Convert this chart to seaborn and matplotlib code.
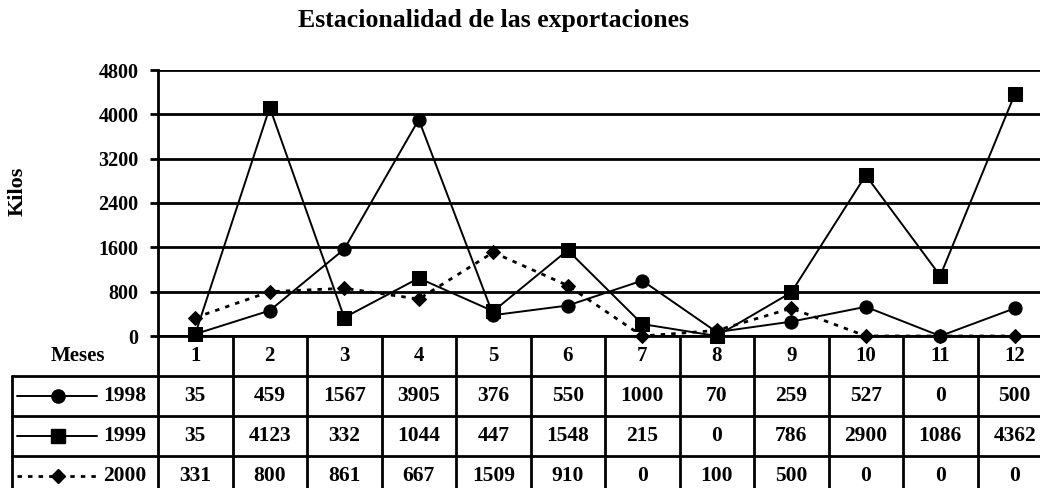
import matplotlib
matplotlib.use("Agg")
import matplotlib.pyplot as plt
import seaborn as sns
import pandas as pd

# ---- data ----
months = list(range(1, 13))
years = ["1998", "1999", "2000"]
v1998 = [35, 459, 1567, 3905, 376, 550, 1000, 70, 259, 527, 0, 500]
v1999 = [35, 4123, 332, 1044, 447, 1548, 215, 0, 786, 2900, 1086, 4362]
v2000 = [331, 800, 861, 667, 1509, 910, 0, 100, 500, 0, 0, 0]
yticks = [0, 800, 1600, 2400, 3200, 4000, 4800]
title = "Estacionalidad de las exportaciones"

series = {"1998": v1998, "1999": v1999, "2000": v2000}
df = pd.DataFrame([
    {"Mes": m, "Kilos": v, "Año": y}
    for y in years for m, v in zip(months, series[y])
])

sns.set_theme(style="white")
plt.rcParams["font.family"] = ["Liberation Serif", "DejaVu Serif"]
plt.rcParams["font.weight"] = "bold"
for k in ["text.color", "axes.labelcolor", "xtick.color", "ytick.color"]:
    plt.rcParams[k] = "black"

W, H = 1040, 488
fig = plt.figure(figsize=(W / 100, H / 100), dpi=100)
fig.patch.set_facecolor("white")

colw = 74.5
ax_left, ax_top, ax_bot = 158, 70, 336
ax = fig.add_axes([ax_left / W, (H - ax_bot) / H, 12 * colw / W, (ax_bot - ax_top) / H])

markers = {"1998": "o", "1999": "s", "2000": "D"}
dashes = {"1998": "", "1999": "", "2000": (1.6, 2.2)}
palette = {y: "black" for y in years}
sns.lineplot(data=df, x="Mes", y="Kilos", hue="Año", style="Año",
             markers=markers, dashes=dashes, palette=palette, ax=ax,
             linewidth=1.4, markersize=9.5, markeredgecolor="black",
             clip_on=False, legend=False)
for line in ax.get_lines():
    if line.get_marker() == "D":
        line.set_markersize(7)
        line.set_linewidth(2.0)

ax.set_xlim(0.5, 12.5)
ax.set_ylim(0, 4800)
ax.set_xticks([])
ax.set_yticks(yticks)
ax.set_yticklabels([str(t) for t in yticks], fontsize=14.5, fontweight="bold")
ax.yaxis.grid(True, color="black", linewidth=2.0)
ax.tick_params(axis="y", left=True, length=6, width=2, pad=8, colors="black")
for s in ["top", "right"]:
    ax.spines[s].set_visible(False)
ax.spines["left"].set_linewidth(2)
ax.spines["left"].set_color("black")
ax.spines["bottom"].set_linewidth(2)
ax.spines["bottom"].set_color("black")
ax.set_xlabel("")
ax.set_ylabel("Kilos", fontsize=16, fontweight="bold")
ax.yaxis.set_label_coords((28 - ax_left) / (12 * colw), (ax_bot - 191) / (ax_bot - ax_top))

fig.text(493 / W, 1 - 21 / H, title, ha="center", va="center",
         fontsize=18.5, fontweight="bold")

# ---- data table ----
tab_left, tab_top, tab_bot = 12, 336, 496
tab = fig.add_axes([tab_left / W, (H - tab_bot) / H, (ax_left + 12 * colw - tab_left) / W,
                    (tab_bot - tab_top) / H])
xl = 0.5 - (ax_left - tab_left) / colw
tab.set_xlim(xl, 12.5)
tab.set_ylim(4, 0)
tab.axis("off")

lw = 2.0
for r in [1, 2, 3, 4]:
    tab.plot([xl, 12.5], [r, r], color="black", lw=lw, clip_on=False)
tab.plot([xl, xl], [1, 4], color="black", lw=lw, clip_on=False)
for m in range(12):
    tab.plot([m + 0.5, m + 0.5], [0, 4], color="black", lw=lw, clip_on=False)

tab.text(-0.57, 0.5, "Meses", ha="center", va="center", fontsize=15, fontweight="bold")
for m in months:
    tab.text(m, 0.5, str(m), ha="center", va="center", fontsize=15, fontweight="bold")

for i, y in enumerate(years):
    r = i + 1.5
    for m, v in zip(months, series[y]):
        tab.text(m, r, str(v), ha="center", va="center", fontsize=15.5, fontweight="bold")
    x0 = xl + (17 - tab_left) / colw
    x1 = xl + (97 - tab_left) / colw
    xm = xl + (58 - tab_left) / colw
    ls = "-" if y != "2000" else (0, (1.6, 2.2))
    tab.plot([x0, x1], [r, r], color="black", lw=1.4 if y != "2000" else 2.0, linestyle=ls)
    tab.plot([xm], [r], marker=markers[y], color="black",
             markersize=9.5 if y != "2000" else 7)
    tab.text(xl + (146 - tab_left) / colw, r, y, ha="right", va="center",
             fontsize=15.5, fontweight="bold")

fig.savefig("out.png", dpi=100, facecolor="white")
